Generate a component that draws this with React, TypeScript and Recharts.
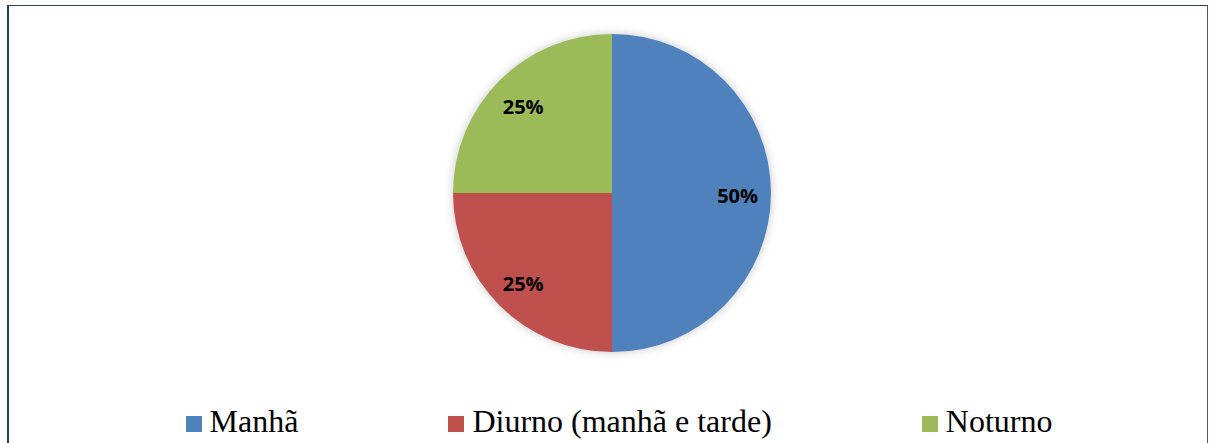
import { PieChart, Pie, Cell, Legend } from "recharts";

const categories = ["Manhã", "Diurno (manhã e tarde)", "Noturno"];
const shares = [50, 25, 25];
const colors = ["#4F81BD", "#C0504D", "#9BBB59"];

const data = categories.map((name, i) => ({ name, value: shares[i] }));

const RAD = Math.PI / 180;

function renderLabel(props: any) {
  const { cx, cy, midAngle, outerRadius, value } = props;
  const r = outerRadius * 0.79;
  const x = cx + r * Math.cos(-midAngle * RAD);
  const y = cy + r * Math.sin(-midAngle * RAD) + 2;
  return (
    <text
      x={x}
      y={y}
      textAnchor="middle"
      dominantBaseline="central"
      fill="#000"
      fontFamily="'Open Sans', sans-serif"
      fontWeight={700}
      fontSize={20}
    >
      {value}%
    </text>
  );
}

function LegendRow() {
  return (
    <div
      style={{
        display: "flex",
        justifyContent: "center",
        gap: 150,
        fontFamily: "'Liberation Serif', 'Times New Roman', serif",
        fontSize: 32,
        color: "#000",
        paddingLeft: 22
      }}
    >
      {categories.map((c, i) => (
        <div key={c} style={{ display: "flex", alignItems: "center", whiteSpace: "nowrap" }}>
          <span style={{ width: 16, height: 16, background: colors[i], marginRight: 8, marginTop: 4 }} />
          <span>{c}</span>
        </div>
      ))}
    </div>
  );
}

export default function App() {
  return (
    <div style={{ position: "absolute", left: 0, top: 0, width: 1216, height: 443, overflow: "hidden", background: "#fff" }}>
      <style>{`.recharts-pie { filter: drop-shadow(0 0 5px rgba(0,0,0,0.22)); }`}</style>
      <div
        style={{
          position: "absolute",
          left: 7,
          top: 5,
          width: 1198,
          height: 460,
          borderLeft: "2px solid #1F3A55",
          borderTop: "1.5px solid #2A4460",
          borderRight: "1.5px solid #46586C"
        }}
      />
      <PieChart width={1216} height={443} margin={{ top: 0, right: 0, bottom: 0, left: 0 }} style={{ position: "absolute", left: 0, top: 0 }}>
        <Pie
          data={data}
          dataKey="value"
          nameKey="name"
          cx={612}
          cy={193}
          outerRadius={159}
          startAngle={90}
          endAngle={-270}
          stroke="none"
          label={renderLabel}
          labelLine={false}
          isAnimationActive={false}
        >
          {data.map((d, i) => (
            <Cell key={d.name} fill={colors[i]} />
          ))}
        </Pie>
        <Legend
          content={() => <LegendRow />}
          wrapperStyle={{ position: "absolute", top: 403, left: 0, width: 1216 }}
        />
      </PieChart>
    </div>
  );
}
